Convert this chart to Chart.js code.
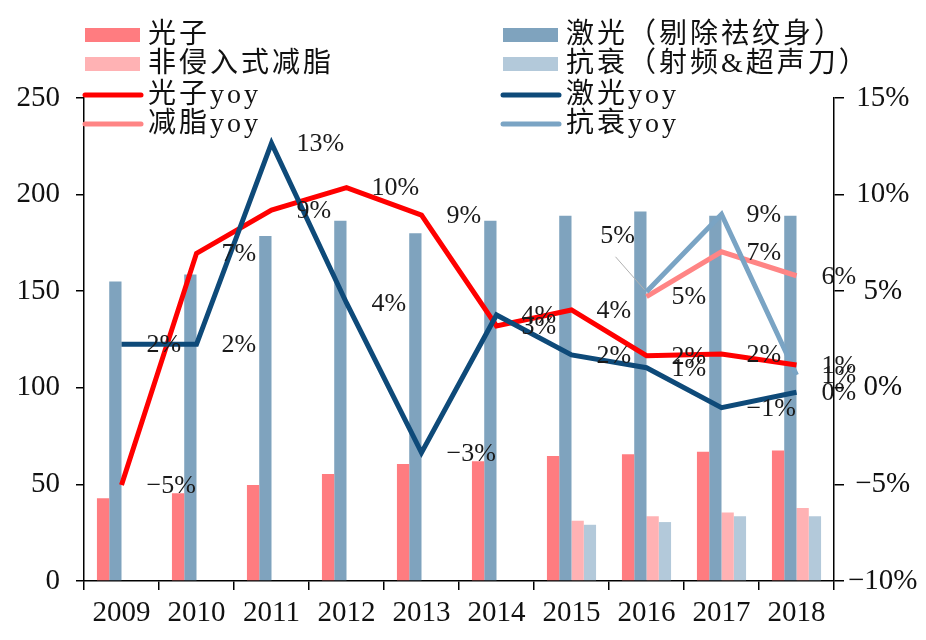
<!DOCTYPE html>
<html lang="zh">
<head>
    <meta charset="UTF-8">
    <title>光子 / 激光 / 减脂 / 抗衰</title>
    <script src="https://cdn.jsdelivr.net/npm/chart.js"></script>
    <style>
        html, body { margin: 0; padding: 0; background: #fff; }
        #wrap { width: 926px; height: 640px; }
    </style>
</head>
<body>
<div id="wrap"><canvas id="mainChart" width="926" height="640"></canvas></div>

<script>
    // 연도 (x축)
    const years = ['2009', '2010', '2011', '2012', '2013', '2014', '2015', '2016', '2017', '2018'];

    // 막대 (왼쪽 축)
    const photonSales    = [42.8, 45.4, 49.7, 55.4, 60.6, 62.0, 64.7, 65.6, 66.9, 67.6];
    const laserSales     = [155, 158.7, 178.6, 186.5, 180, 186.5, 189, 191.2, 189, 189];
    const fatSales       = [null, null, null, null, null, null, 31.2, 33.5, 35.5, 37.8];
    const antiAgingSales = [null, null, null, null, null, null, 29.1, 30.5, 33.5, 33.5];

    // yoy 선 (오른쪽 축, %)
    const photonYoy    = [-5.03, 6.96, 9.2, 10.36, 8.94, 3.2, 4.03, 1.66, 1.75, 1.18];
    const laserYoy     = [2.25, 2.25, 12.66, 4.39, -3.36, 3.77, 1.7, 1.04, -1.03, -0.23];
    const fatYoy       = [null, null, null, null, null, null, null, 4.72, 7.04, 5.8];
    const antiAgingYoy = [null, null, null, null, null, null, null, 4.97, 8.98, 0.66];

    // 축 눈금
    const leftTicks  = { min: 0, max: 250, step: 50 };
    const rightTicks = { min: -10, max: 15, step: 5 };

    const serif = "'Liberation Serif', 'Times New Roman', serif";
    const cjk = "'Liberation Serif', 'Noto Sans CJK SC', serif";

    function fmtPct(v) {
        if (v === 0) return '0%';
        return (v < 0 ? '\u2212' : '') + Math.abs(v) + '%';
    }

    // 선 데이터 라벨
    const pctLabels = {
        id: 'pctLabels',
        afterDatasetsDraw(chart) {
            const ctx = chart.ctx;
            ctx.save();
            ctx.font = '26px ' + serif;
            ctx.fillStyle = '#1a1a1a';
            ctx.textBaseline = 'middle';
            chart.data.datasets.forEach((ds, di) => {
                if (ds.type !== 'line') return;
                const meta = chart.getDatasetMeta(di);
                meta.data.forEach((pt, i) => {
                    const v = ds.data[i];
                    if (v == null) return;
                    const txt = fmtPct(Math.round(v) + 0);
                    if (ds.leaderIndex === i) {
                        // 겹침 방지용 리더선
                        ctx.strokeStyle = '#b0b0b0';
                        ctx.lineWidth = 1;
                        ctx.beginPath();
                        ctx.moveTo(pt.x - 31, pt.y - 35);
                        ctx.lineTo(pt.x - 2, pt.y - 2);
                        ctx.stroke();
                        ctx.textAlign = 'center';
                        ctx.fillText(txt, pt.x - 29, pt.y - 56);
                        return;
                    }
                    ctx.textAlign = 'left';
                    ctx.fillText(txt, pt.x + 25, pt.y + 1);
                });
            });
            ctx.restore();
        }
    };

    // 범례 (차트 안쪽, 2열)
    const legendItems = [
        { col: 0, row: 0, kind: 'box',  color: '#ff7c80', text: '光子' },
        { col: 0, row: 1, kind: 'box',  color: '#ffb2b4', text: '非侵入式减脂' },
        { col: 0, row: 2, kind: 'line', color: '#ff0000', text: '光子yoy' },
        { col: 0, row: 3, kind: 'line', color: '#ff8585', text: '减脂yoy' },
        { col: 1, row: 0, kind: 'box',  color: '#7fa3be', text: '激光（剔除祛纹身）' },
        { col: 1, row: 1, kind: 'box',  color: '#b3c9da', text: '抗衰（射频&超声刀）' },
        { col: 1, row: 2, kind: 'line', color: '#0e4a79', text: '激光yoy' },
        { col: 1, row: 3, kind: 'line', color: '#7aa4c4', text: '抗衰yoy' }
    ];
    const innerLegend = {
        id: 'innerLegend',
        afterDraw(chart) {
            const ctx = chart.ctx;
            const colX = [85, 503];
            const rowY = [35, 64, 95, 124];
            ctx.save();
            ctx.font = '28px ' + cjk;
            ctx.fillStyle = '#111';
            ctx.textAlign = 'left';
            ctx.textBaseline = 'middle';
            ctx.letterSpacing = '3px';
            legendItems.forEach(it => {
                const x = colX[it.col], y = rowY[it.row];
                if (it.kind === 'box') {
                    ctx.fillStyle = it.color;
                    ctx.fillRect(x, y - 7, 55, 14);
                } else {
                    ctx.strokeStyle = it.color;
                    ctx.lineWidth = 5;
                    ctx.lineCap = 'round';
                    ctx.beginPath();
                    ctx.moveTo(x, y);
                    ctx.lineTo(x + 56, y);
                    ctx.stroke();
                }
                ctx.fillStyle = '#111';
                ctx.fillText(it.text, x + 63, y + 1);
            });
            ctx.restore();
        }
    };

    const barBase = { type: 'bar', yAxisID: 'y', order: 10, categoryPercentage: 0.655, barPercentage: 1.0 };
    const lineBase = { type: 'line', yAxisID: 'y1', borderWidth: 5, pointRadius: 0, fill: false, tension: 0, spanGaps: false };

    const ctxMain = document.getElementById('mainChart').getContext('2d');
    const mainChart = new Chart(ctxMain, {
        data: {
            labels: years,
            datasets: [
                { ...barBase, label: '光子', data: photonSales, backgroundColor: '#ff7c80' },
                { ...barBase, label: '激光（剔除祛纹身）', data: laserSales, backgroundColor: '#7fa3be' },
                { ...barBase, label: '非侵入式减脂', data: fatSales, backgroundColor: '#ffb2b4' },
                { ...barBase, label: '抗衰（射频&超声刀）', data: antiAgingSales, backgroundColor: '#b3c9da' },
                { ...lineBase, label: '光子yoy', data: photonYoy, borderColor: '#ff0000', order: 1 },
                { ...lineBase, label: '激光yoy', data: laserYoy, borderColor: '#0e4a79', order: 0 },
                { ...lineBase, label: '减脂yoy', data: fatYoy, borderColor: '#ff8585', order: 3 },
                { ...lineBase, label: '抗衰yoy', data: antiAgingYoy, borderColor: '#7aa4c4', order: 2, leaderIndex: 7 }
            ]
        },
        options: {
            responsive: false,
            animation: false,
            devicePixelRatio: 1,
            layout: { padding: { top: 98, left: 0, right: 0, bottom: 0 } },
            plugins: {
                legend: { display: false },
                tooltip: { enabled: false }
            },
            scales: {
                x: {
                    grid: { offset: true, drawOnChartArea: false, drawTicks: true, tickLength: 9, color: '#000', lineWidth: 1.5 },
                    border: { color: '#000', width: 1.5 },
                    ticks: { font: { family: serif, size: 29 }, color: '#111', padding: 6, maxRotation: 0, autoSkip: false },
                    afterFit(s) { s.height = 59; }
                },
                y: {
                    position: 'left',
                    min: leftTicks.min, max: leftTicks.max,
                    grid: { drawOnChartArea: false, tickLength: 8, color: '#000', lineWidth: 1.5 },
                    border: { color: '#000', width: 1.5 },
                    ticks: { stepSize: leftTicks.step, font: { family: serif, size: 29 }, color: '#111', padding: 16 },
                    afterFit(s) { s.width = 84; }
                },
                y1: {
                    position: 'right',
                    min: rightTicks.min, max: rightTicks.max,
                    grid: { drawOnChartArea: false, tickLength: 10, color: '#000', lineWidth: 1.5 },
                    border: { color: '#000', width: 1.5 },
                    ticks: { stepSize: rightTicks.step, font: { family: serif, size: 29 }, color: '#111', padding: 4, crossAlign: 'center',
                             callback: v => fmtPct(v) },
                    afterFit(s) { s.width = 92; }
                }
            }
        },
        plugins: [pctLabels, innerLegend]
    });
</script>
</body>
</html>
